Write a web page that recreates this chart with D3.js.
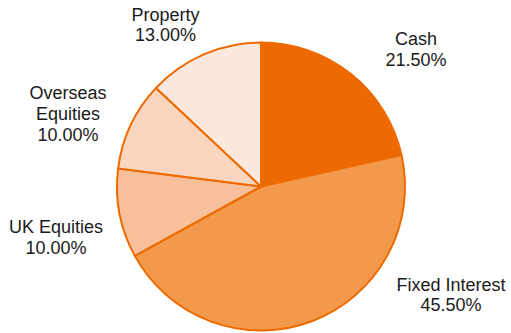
<!DOCTYPE html>
<html>
<head>
<meta charset="utf-8">
<script src="https://cdn.jsdelivr.net/npm/d3@7"></script>
<style>
  body { margin: 0; background: #fff; }
  text { font-family: "Liberation Sans", Arial, sans-serif; font-size: 18px; fill: #1a1a1a; }
</style>
</head>
<body>
<script>
// data
var categories = ["Cash", "Fixed Interest", "UK Equities", "Overseas Equities", "Property"];
var shares = [21.5, 45.5, 10.0, 10.0, 13.0];
var labelLines = [["Cash"], ["Fixed Interest"], ["UK Equities"], ["Overseas", "Equities"], ["Property"]];

var colors = ["#ee6a00", "#f3994c", "#f7c09a", "#f9d6bd", "#fce8dc"];
// label anchor (centre of first baseline), relative to pie centre
var labelAt = [[155, -141.5], [190, 104], [-205, 46.5], [-193, -87.5], [-95.5, -166]];

var svgWidth = 511, svgHeight = 333;
var cx = 261, cy = 186.5, radius = 144;
var lineH = 20.8;

var svg = d3.select("body").append("svg")
    .attr("width", svgWidth)
    .attr("height", svgHeight);

var g = svg.append("g").attr("transform", `translate(${cx}, ${cy})`);

var data = categories.map(function(c, i) {
    return { name: c, value: shares[i], lines: labelLines[i], i: i };
});

var pie = d3.pie().sort(null).value(d => d.value);
var arc = d3.arc().innerRadius(0).outerRadius(radius);

g.selectAll("path")
    .data(pie(data))
    .enter()
    .append("path")
    .attr("d", arc)
    .attr("fill", d => colors[d.data.i])
    .attr("stroke", "#ee6a00")
    .attr("stroke-width", 2)
    .attr("stroke-linejoin", "round");

// labels
var labels = g.selectAll("text.lbl")
    .data(data)
    .enter()
    .append("text")
    .attr("class", "lbl")
    .attr("text-anchor", "middle")
    .attr("transform", d => `translate(${labelAt[d.i][0]}, ${labelAt[d.i][1]})`);

labels.each(function(d) {
    var t = d3.select(this);
    var rows = d.lines.concat([d.value.toFixed(2) + "%"]);
    rows.forEach(function(r, k) {
        t.append("tspan").attr("x", 0).attr("y", k * lineH).text(r);
    });
});
</script>
</body>
</html>
